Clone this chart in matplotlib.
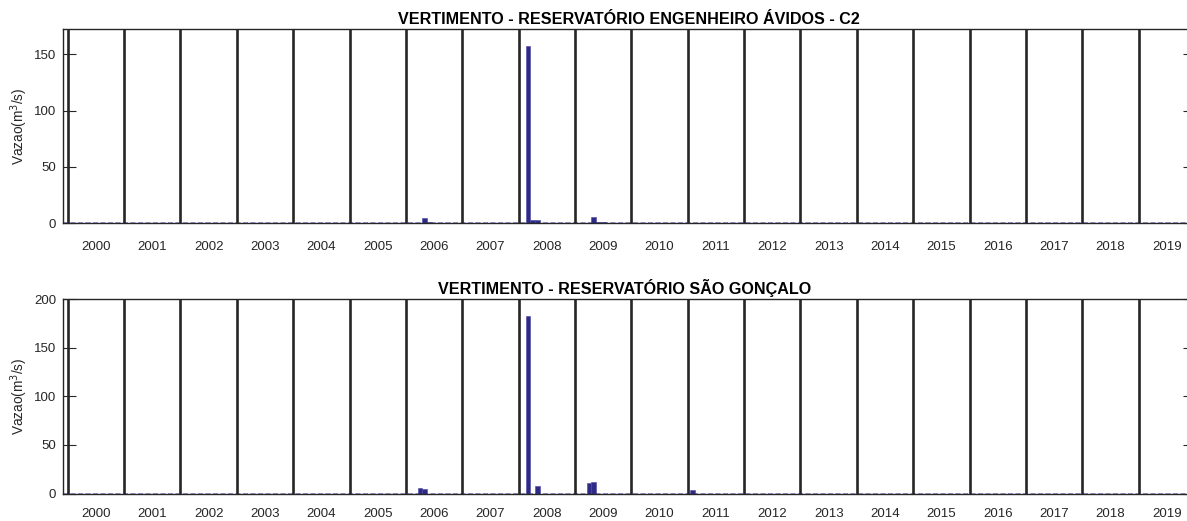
import numpy as np
import matplotlib
matplotlib.use('Agg')
import matplotlib.pyplot as plt

plt.rcParams['font.family'] = ['Liberation Sans', 'DejaVu Sans']

# years shown on the x axis (monthly series, 240 months)
years = list(range(2000, 2020))

# nonzero monthly spill values (month index from Jan 2000 = 0)
avidos_month = [76, 77, 98, 99, 100, 112, 113, 114]
avidos_val = [5.0, 1.0, 157.0, 2.9, 2.9, 5.6, 1.0, 0.8]

sg_month = [75, 76, 98, 100, 111, 112, 133]
sg_val = [5.5, 4.8, 183.0, 7.8, 10.3, 11.7, 4.1]

titles = ['VERTIMENTO - RESERVATÓRIO ENGENHEIRO ÁVIDOS - C2',
          'VERTIMENTO - RESERVATÓRIO SÃO GONÇALO']
ylims = [172, 200]
yticks = [[0, 50, 100, 150], [0, 50, 100, 150, 200]]
label_pad = [12.5, 10.5]
title_x = [0.5, 0.4965]

n_months = 12 * len(years)
months = np.arange(n_months)


def full_series(idx, vals):
    s = np.zeros(n_months)
    s[idx] = vals
    return s


series = [full_series(avidos_month, avidos_val), full_series(sg_month, sg_val)]

fig = plt.figure(figsize=(11.87, 5.21), dpi=100)
W, H = 1187, 521
positions = [(63, 29.3, 223.3), (63, 299.3, 493.5)]
right_px = 1195

for i in range(2):
    left, top, bottom = positions[i]
    ax = fig.add_axes([left / W, (H - bottom) / H, (right_px - left) / W, (bottom - top) / H])

    ax.bar(months, series[i], width=1.0, color='#2f2a86', edgecolor='#4a45a0', linewidth=0.4, zorder=2)
    ax.axhline(0, color='#8a86c8', lw=1.2, ls=(0, (3, 1.5)), zorder=1)

    # year separators
    for k in range(len(years)):
        ax.axvline(12 * k, color='#262626', lw=1.9, zorder=3)

    ax.set_xlim(-1, 240)
    ax.set_ylim(0, ylims[i])
    ax.set_yticks(yticks[i])
    ax.set_xticks([12 * k + 6 for k in range(len(years))])
    ax.set_xticklabels([str(y) for y in years])

    ax.tick_params(axis='y', direction='in', length=9, width=0.8, left=True, right=True,
                   labelsize=9.5, pad=5, colors='#262626')
    ax.tick_params(axis='x', length=0, labelsize=9.5, pad=label_pad[i], colors='#262626')
    for sp in ax.spines.values():
        sp.set_color('#262626')
        sp.set_linewidth(1.0)

    ax.set_ylabel('Vazao(m$^3$/s)', fontsize=9.8, color='#262626', labelpad=3)
    ax.set_title(titles[i], fontsize=11.6, fontweight='bold', pad=4, x=title_x[i])

fig.savefig('out.png', dpi=100)
